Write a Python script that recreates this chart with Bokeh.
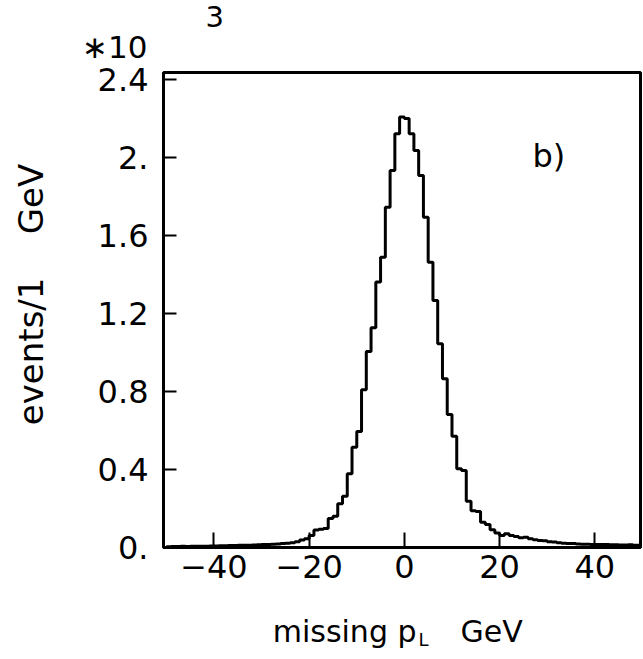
import numpy as np
from bokeh.plotting import figure
from bokeh.models import Range1d, FixedTicker, Label
from bokeh.core.properties import value
from bokeh.embed import file_html
from bokeh.resources import INLINE

# histogram: missing p_L, 1 GeV bins from -50 to 50, counts in units of 10^3 events
bin_lo = -50
bin_width = 1
counts = [
    0.004, 0.005, 0.005, 0.006, 0.005, 0.006, 0.006, 0.007, 0.007, 0.008,   # -50..-41
    0.008, 0.009, 0.009, 0.010, 0.010, 0.011, 0.012, 0.012, 0.013, 0.014,   # -40..-31
    0.015, 0.016, 0.017, 0.018, 0.020, 0.022, 0.025, 0.030, 0.038, 0.045,   # -30..-21
    0.062, 0.090, 0.093, 0.098, 0.149, 0.160, 0.224, 0.263, 0.378, 0.514,   # -20..-11
    0.595, 0.809, 1.005, 1.127, 1.361, 1.489, 1.745, 1.933, 2.122, 2.208,   # -10..-1
    2.200, 2.122, 2.036, 1.908, 1.694, 1.463, 1.267, 1.045, 0.865, 0.682,   # 0..9
    0.571, 0.404, 0.395, 0.237, 0.188, 0.185, 0.130, 0.118, 0.091, 0.075,   # 10..19
    0.062, 0.070, 0.062, 0.056, 0.050, 0.053, 0.045, 0.040, 0.036, 0.035,   # 20..29
    0.029, 0.028, 0.024, 0.022, 0.021, 0.020, 0.018, 0.017, 0.017, 0.016,   # 30..39
    0.016, 0.015, 0.015, 0.014, 0.014, 0.013, 0.013, 0.014, 0.012, 0.012,   # 40..49
]

x_ticks = [-40, -20, 0, 20, 40]
x_tick_labels = ["\u221240", "\u221220", "0", "20", "40"]
y_ticks = [0, 0.4, 0.8, 1.2, 1.6, 2.0, 2.4]
y_tick_labels = ["0.", "0.4", "0.8", "1.2", "1.6", "2.", "2.4"]

x_title = ["missing p", "L", "GeV"]
y_title = "events/1\u00a0\u00a0\u00a0\u00a0GeV"
scale_text = ["\u221710", "3"]
panel_tag = "b)"

FONT = "DejaVu Sans"
W, H = 643, 659
B_LEFT, B_RIGHT, B_TOP, B_BOTTOM = 163, 3, 72, 112
Y0, XMIN, XMAX, YMAX = 0.0, -50.6, 49.6, 2.436
BASE_FIX = 12  # rendered alphabetic baseline sits this many px lower than asked

p = figure(width=W, height=H, output_backend="svg", toolbar_location=None,
           x_range=Range1d(XMIN, XMAX), y_range=Range1d(Y0, YMAX),
           min_border_left=B_LEFT, min_border_right=B_RIGHT, min_border_top=B_TOP,
           min_border_bottom=B_BOTTOM)
p.background_fill_color = "white"
p.border_fill_color = "white"
p.outline_line_color = "black"
p.outline_line_width = 3
p.grid.visible = False

edges = bin_lo + bin_width * np.arange(len(counts) + 1)
ys = list(counts) + [counts[-1]]
p.step(edges, ys, mode="after", line_color="black", line_width=3)

# axes
for ax in (p.xaxis[0], p.yaxis[0]):
    ax.axis_line_color = "black"
    ax.axis_line_width = 3
    ax.major_tick_out = 0
    ax.minor_tick_line_color = None
    ax.major_tick_line_color = "black"
    ax.major_tick_line_width = 2
    ax.major_label_text_font = FONT
    ax.major_label_text_color = "black"
    ax.major_label_text_font_size = "32px"

p.xaxis[0].ticker = FixedTicker(ticks=x_ticks)
p.xaxis[0].major_label_overrides = {t: l for t, l in zip(x_ticks, x_tick_labels)}
p.xaxis[0].major_tick_in = 15
p.xaxis[0].major_label_standoff = 7

p.yaxis[0].ticker = FixedTicker(ticks=y_ticks)
p.yaxis[0].major_label_overrides = {t: l for t, l in zip(y_ticks, y_tick_labels)}
p.yaxis[0].major_tick_in = 13
p.yaxis[0].major_label_standoff = 15

# canvas pixel -> data coordinates (texts outside the frame)
FRAME_W = W - B_LEFT - B_RIGHT
FRAME_H = H - B_TOP - B_BOTTOM

def dx(px):
    return XMIN + (px - B_LEFT) * (XMAX - XMIN) / FRAME_W

def dy(py):
    return Y0 + (H - B_BOTTOM - py) * (YMAX - Y0) / FRAME_H

def add_text(px, py, text, size, align, baseline="alphabetic", angle=0.0):
    if baseline == "alphabetic":
        py = py - BASE_FIX
    p.text(x=[dx(px)], y=[dy(py)], text=[text], text_font=value(FONT),
           text_font_size=value(size), text_color="black", text_align=align,
           text_baseline=baseline, angle=angle, level="overlay")

add_text(147, 58, scale_text[0], "31px", "right")
add_text(205, 28, scale_text[1], "29px", "left")
add_text(30, 294, y_title, "34px", "center", "middle", np.pi / 2)
add_text(416, 643, x_title[0], "30px", "right")
add_text(418, 651, x_title[1], "18px", "left")
add_text(460, 643, x_title[2], "30px", "left")

p.add_layout(Label(x=dx(532), y=dy(167 - BASE_FIX), text=panel_tag, text_font=FONT,
                   text_font_size="32px", text_color="black", text_align="left",
                   text_baseline="alphabetic"))

open("out.html", "w").write(file_html(p, INLINE))
